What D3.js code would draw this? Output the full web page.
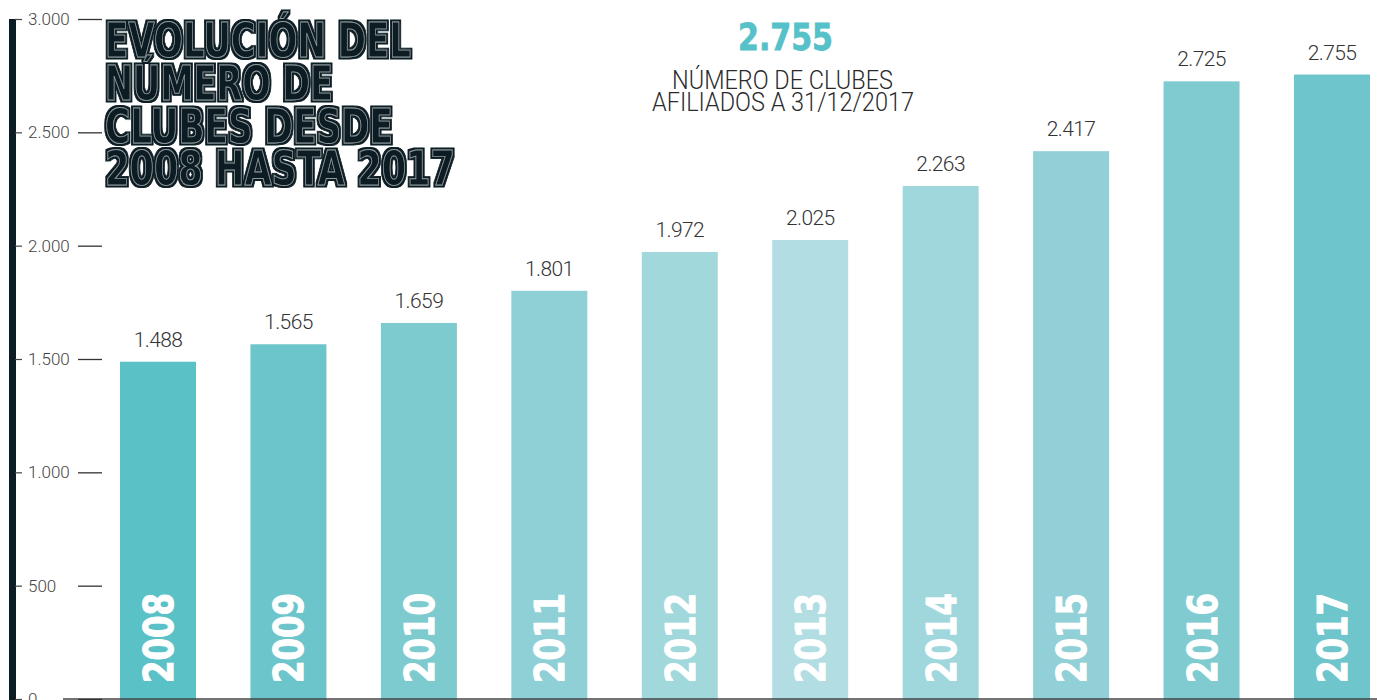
<!DOCTYPE html>
<html>
<head>
<meta charset="utf-8">
<script src="https://cdn.jsdelivr.net/npm/d3@7"></script>
<style>
  html, body { margin: 0; padding: 0; background: #fff; }
  svg { display: block; }
</style>
</head>
<body>
<div id="chart"></div>
<script>
(function () {
  // ---- data ----
  const years = ["2008", "2009", "2010", "2011", "2012", "2013", "2014", "2015", "2016", "2017"];
  const clubs = [1488, 1565, 1659, 1801, 1972, 2025, 2263, 2417, 2725, 2755];
  const barColors = ["#5ac1c7", "#6cc5cb", "#7dcacf", "#8fd0d6", "#a0d8dc",
                     "#b2dde2", "#9fd7dc", "#91d0d6", "#80cbd0", "#6ec6cc"];
  const yTicks = [0, 500, 1000, 1500, 2000, 2500, 3000];
  const titleLines = ["EVOLUCIÓN DEL", "NÚMERO DE", "CLUBES DESDE", "2008 HASTA 2017"];
  const titleWidths = [306, 228, 288, 350];
  const headline = "2.755";
  const subLines = ["NÚMERO DE CLUBES", "AFILIADOS A 31/12/2017"];

  const W = 1377, H = 700;
  const dark = "#0b1c24";
  const condensed = "'DejaVu Sans Condensed', 'Liberation Sans Narrow', 'DejaVu Sans', sans-serif";
  const light = "Roboto, 'Noto Sans', sans-serif";

  const es = d3.formatLocale({ decimal: ",", thousands: ".", grouping: [3], currency: ["", "€"] });
  const fmt = es.format(",d");

  const svg = d3.select("#chart").append("svg")
    .attr("width", W)
    .attr("height", H);

  // outline filter for the title: dark halo round a thin grey inline
  const f = svg.append("defs").append("filter")
    .attr("id", "halo")
    .attr("x", "-5%").attr("y", "-10%")
    .attr("width", "110%").attr("height", "120%");
  f.append("feMorphology").attr("in", "SourceAlpha").attr("operator", "dilate").attr("radius", 1.6).attr("result", "thick");
  f.append("feFlood").attr("flood-color", dark).attr("result", "ink");
  f.append("feComposite").attr("in", "ink").attr("in2", "thick").attr("operator", "in").attr("result", "outline");
  const merge = f.append("feMerge");
  merge.append("feMergeNode").attr("in", "outline");
  merge.append("feMergeNode").attr("in", "SourceGraphic");

  // ---- scales ----
  const x = d3.scaleBand()
    .domain(years)
    .range([120, 1370])
    .paddingInner(0.4174)
    .paddingOuter(0);

  const y = d3.scaleLinear()
    .domain([0, 3000])
    .range([699, 19]);

  const rows = years.map((yr, i) => ({ year: yr, value: clubs[i], color: barColors[i] }));

  // ---- bars ----
  svg.append("g").selectAll("rect")
    .data(rows)
    .join("rect")
    .attr("x", d => x(d.year))
    .attr("y", d => y(d.value))
    .attr("width", x.bandwidth())
    .attr("height", d => y(0) - y(d.value) + 2)
    .attr("fill", d => d.color);

  // value labels
  svg.append("g").selectAll("text")
    .data(rows)
    .join("text")
    .attr("x", d => x(d.year) + x.bandwidth() / 2)
    .attr("y", d => y(d.value) - 15)
    .attr("text-anchor", "middle")
    .style("font-family", light)
    .style("font-weight", 300)
    .style("font-size", "21px")
    .style("letter-spacing", "-0.6px")
    .style("fill", "#333")
    .text(d => fmt(d.value));

  // year labels inside bars
  svg.append("g").selectAll("text")
    .data(rows)
    .join("text")
    .attr("transform", d => `translate(${x(d.year) + x.bandwidth() / 2 + 15},683) rotate(-90)`)
    .attr("textLength", 90)
    .attr("lengthAdjust", "spacingAndGlyphs")
    .style("font-family", condensed)
    .style("font-weight", "bold")
    .style("font-size", "41px")
    .style("fill", "#fff")
    .style("stroke", "#fff")
    .style("stroke-width", 1)
    .text(d => d.year);

  // baseline
  svg.append("line")
    .attr("x1", 63).attr("x2", W)
    .attr("y1", y(0)).attr("y2", y(0))
    .attr("stroke", "#444")
    .attr("stroke-width", 1.5);

  // ---- y axis ----
  svg.append("rect")
    .attr("x", 9).attr("y", y(3000))
    .attr("width", 7).attr("height", H - y(3000))
    .attr("fill", dark);

  const yAxis = svg.append("g")
    .attr("transform", "translate(28,0)")
    .call(d3.axisLeft(y).tickValues(yTicks).tickSize(0).tickPadding(0).tickFormat(fmt));
  yAxis.select(".domain").remove();
  yAxis.selectAll(".tick text")
    .attr("text-anchor", "start")
    .attr("x", 0)
    .style("font-family", light)
    .style("font-weight", 300)
    .style("font-size", "17px")
    .style("fill", "#444");
  yAxis.selectAll(".tick").append("line")
    .attr("x1", -13).attr("x2", -6)
    .attr("stroke", "#444").attr("stroke-width", 1.2);
  yAxis.selectAll(".tick").append("line")
    .attr("x1", 50).attr("x2", 74)
    .attr("stroke", "#333").attr("stroke-width", 1.3);

  // ---- title ----
  const tBase = [57, 100, 143, 185];
  svg.append("text")
    .attr("filter", "url(#halo)")
    .style("font-family", condensed)
    .style("font-weight", "bold")
    .style("font-size", "48px")
    .style("fill", dark)
    .style("stroke", "#8d9a9f")
    .style("stroke-width", 0.9)
    .selectAll("tspan")
    .data(titleLines)
    .join("tspan")
    .attr("x", 105)
    .attr("y", (d, i) => tBase[i])
    .attr("textLength", (d, i) => titleWidths[i])
    .attr("lengthAdjust", "spacingAndGlyphs")
    .text(d => d);

  // ---- headline number ----
  svg.append("text")
    .attr("x", 738).attr("y", 50)
    .attr("textLength", 95)
    .attr("lengthAdjust", "spacingAndGlyphs")
    .style("font-family", condensed)
    .style("font-weight", "bold")
    .style("font-size", "38px")
    .style("fill", "#56c1c8")
    .style("stroke", "#56c1c8")
    .style("stroke-width", 0.8)
    .text(headline);

  const subW = [221, 262];
  const subX = [672, 652];
  const subY = [89, 111];
  svg.append("text")
    .style("font-family", light)
    .style("font-weight", 300)
    .style("font-size", "25px")
    .style("fill", "#2a2a2a")
    .selectAll("tspan")
    .data(subLines)
    .join("tspan")
    .attr("x", (d, i) => subX[i])
    .attr("y", (d, i) => subY[i])
    .attr("textLength", (d, i) => subW[i])
    .attr("lengthAdjust", "spacingAndGlyphs")
    .text(d => d);
})();
</script>
</body>
</html>
